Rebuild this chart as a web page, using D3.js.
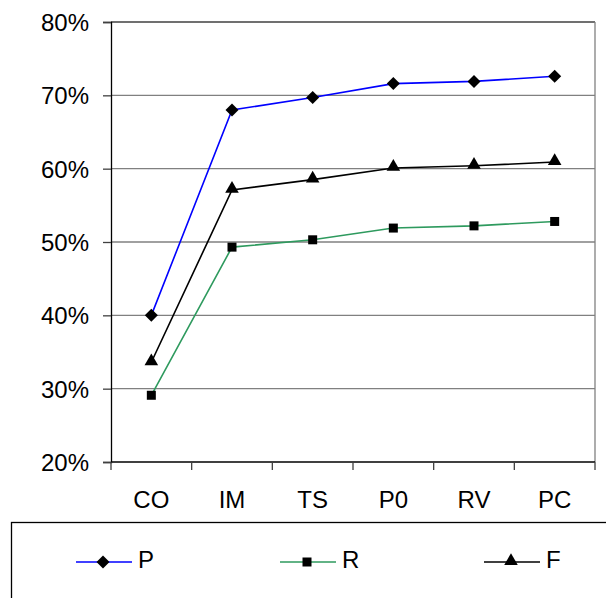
<!DOCTYPE html>
<html>
<head>
<meta charset="utf-8">
<script src="https://cdn.jsdelivr.net/npm/d3@7"></script>
<style>
  body { margin: 0; background: #fff; }
  svg { display: block; font-family: "Liberation Sans", Arial, sans-serif; }
</style>
</head>
<body>
<div id="canvas"></div>
<script>
"use strict"

/* Chart data */
let categories = ["CO", "IM", "TS", "P0", "RV", "PC"]
let pValues = [0.400, 0.680, 0.697, 0.716, 0.719, 0.726]
let rValues = [0.291, 0.493, 0.503, 0.519, 0.522, 0.528]
let fValues = [0.336, 0.571, 0.585, 0.601, 0.604, 0.609]
let yTicks = [0.2, 0.3, 0.4, 0.5, 0.6, 0.7, 0.8]
let seriesNames = ["P", "R", "F"]

/* Canvas size and plot area */
let svgWidth = 606
let svgHeight = 598
let plotLeft = 111
let plotRight = 595
let plotTop = 22
let plotBottom = 462

let svg = d3.select("#canvas")
    .append("svg")
    .attr("width", svgWidth)
    .attr("height", svgHeight)

let xScale = d3.scaleBand()
    .domain(categories)
    .range([plotLeft, plotRight])
    .padding(0)

let yScale = d3.scaleLinear()
    .domain([0.2, 0.8])
    .range([plotBottom, plotTop])

function xCenter(c) {
    return xScale(c) + xScale.bandwidth() / 2
}

/* Gridlines */
svg.append("g")
    .selectAll("line")
    .data(yTicks.slice(1))
    .join("line")
    .attr("x1", plotLeft)
    .attr("x2", plotRight)
    .attr("y1", d => yScale(d))
    .attr("y2", d => yScale(d))
    .attr("stroke", d => d === 0.8 ? "#404040" : "#808080")
    .attr("stroke-width", 1.3)

/* Right border */
svg.append("line")
    .attr("x1", plotRight)
    .attr("x2", plotRight)
    .attr("y1", plotTop)
    .attr("y2", plotBottom)
    .attr("stroke", "#808080")
    .attr("stroke-width", 1.3)

/* Y axis */
let yAxis = d3.axisLeft(yScale)
    .tickValues(yTicks)
    .tickFormat(d3.format(".0%"))
    .tickSize(8)
    .tickPadding(14)

let yAxisG = svg.append("g")
    .attr("transform", "translate(" + plotLeft + ",0)")
    .call(yAxis)
yAxisG.select(".domain").attr("stroke", "#000").attr("stroke-width", 1.3)
yAxisG.selectAll(".tick line").attr("stroke", "#404040").attr("stroke-width", 1.3)
yAxisG.selectAll(".tick text")
    .attr("font-size", 24)
    .attr("font-family", "Liberation Sans, Arial, sans-serif")
    .attr("fill", "#000")
    .attr("dy", "0.36em")

/* X axis line and tick marks at category edges */
svg.append("line")
    .attr("x1", plotLeft)
    .attr("x2", plotRight)
    .attr("y1", plotBottom)
    .attr("y2", plotBottom)
    .attr("stroke", "#000")
    .attr("stroke-width", 1.3)

let edges = categories.map(c => xScale(c)).concat([plotRight])
svg.append("g")
    .selectAll("line")
    .data(edges)
    .join("line")
    .attr("x1", d => d)
    .attr("x2", d => d)
    .attr("y1", plotBottom)
    .attr("y2", plotBottom + 8)
    .attr("stroke", "#404040")
    .attr("stroke-width", 1.3)

svg.append("g")
    .selectAll("text")
    .data(categories)
    .join("text")
    .attr("x", d => xCenter(d))
    .attr("y", 508)
    .attr("text-anchor", "middle")
    .attr("font-size", 24)
    .text(d => d)

/* Series */
let series = [
    { name: seriesNames[0], values: pValues, color: "#0000ff", symbol: "diamond" },
    { name: seriesNames[1], values: rValues, color: "#2e9a5e", symbol: "square" },
    { name: seriesNames[2], values: fValues, color: "#000000", symbol: "triangle" }
]

function markerPath(kind) {
    if (kind === "diamond") return d3.symbol().type(d3.symbolSquare).size(85)()
    if (kind === "square") return d3.symbol().type(d3.symbolSquare).size(81)()
    return d3.symbol().type(d3.symbolTriangle).size(80)()
}

function markerTransform(kind, x, y) {
    if (kind === "diamond") return "translate(" + x + "," + y + ") rotate(45)"
    if (kind === "triangle") return "translate(" + x + "," + (y - 1) + ")"
    return "translate(" + x + "," + y + ")"
}

let line = d3.line()
    .x((d, i) => xCenter(categories[i]))
    .y(d => yScale(d))

series.forEach(function (s) {
    svg.append("path")
        .datum(s.values)
        .attr("d", line)
        .attr("fill", "none")
        .attr("stroke", s.color)
        .attr("stroke-width", 1.6)

    svg.append("g")
        .selectAll("path")
        .data(s.values)
        .join("path")
        .attr("d", markerPath(s.symbol))
        .attr("transform", (d, i) => markerTransform(s.symbol, xCenter(categories[i]), yScale(d)))
        .attr("fill", "#000")
})

/* Legend */
svg.append("rect")
    .attr("x", 11.5)
    .attr("y", 522.5)
    .attr("width", 620)
    .attr("height", 100)
    .attr("fill", "none")
    .attr("stroke", "#000")
    .attr("stroke-width", 1.3)

let legendX = [76, 280, 484]
let legendY = 562
series.forEach(function (s, i) {
    let x0 = legendX[i]
    svg.append("line")
        .attr("x1", x0)
        .attr("x2", x0 + 56)
        .attr("y1", legendY)
        .attr("y2", legendY)
        .attr("stroke", s.color)
        .attr("stroke-width", 1.6)
    svg.append("path")
        .attr("d", markerPath(s.symbol))
        .attr("transform", markerTransform(s.symbol, x0 + 27, legendY))
        .attr("fill", "#000")
    svg.append("text")
        .attr("x", x0 + 62)
        .attr("y", 568)
        .attr("font-size", 24)
        .text(s.name)
})
</script>
</body>
</html>
